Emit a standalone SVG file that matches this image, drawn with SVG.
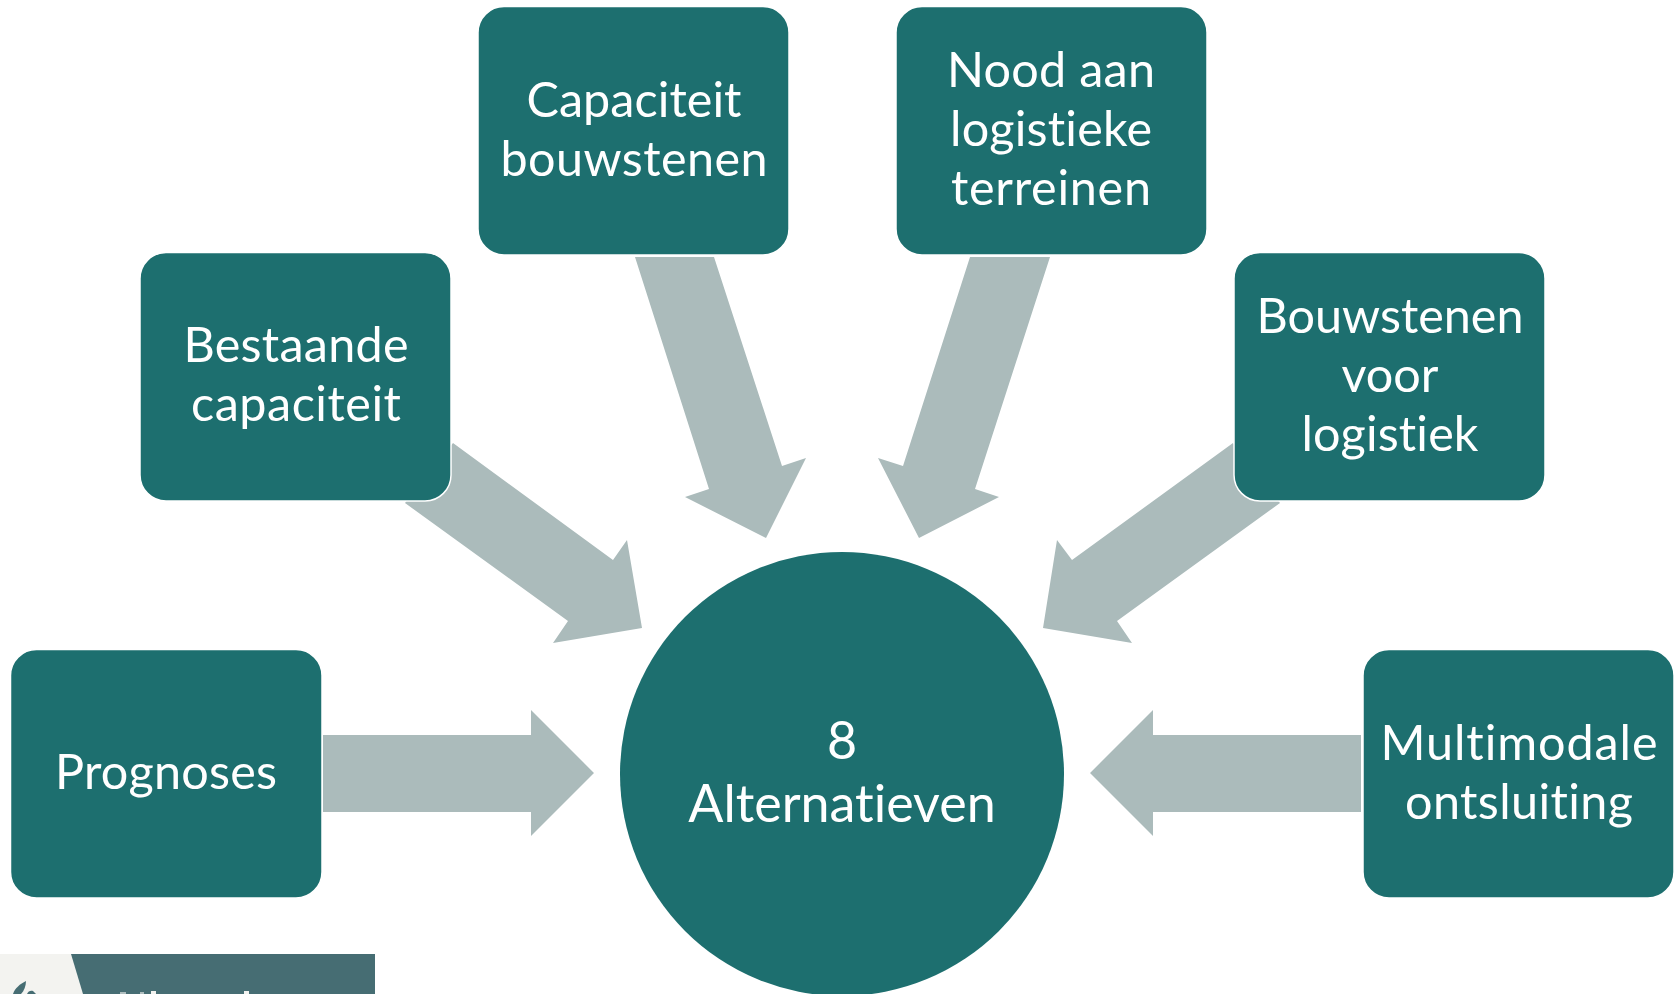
<svg xmlns="http://www.w3.org/2000/svg" width="1679" height="994" viewBox="0 0 1679 994">
<style>
.box{fill:#1d6f6f;stroke:#fff;stroke-width:1.5}
.arrow{fill:#abbbbb}
.frag{fill:#f3f3f0}
text{font-family:"Lato","Carlito","Liberation Sans",sans-serif;font-size:48.5px;fill:#fff;text-anchor:middle;font-variant-ligatures:none}
.big{font-size:52px}
</style>
<rect width="1679" height="994" fill="#fff"/>
<g id="connectors">
<polygon class="arrow" points="323,735 531,735 531,710 594,773 531,836 531,812 323,812"/>
<polygon class="arrow" points="1361,735 1153,735 1153,710 1090,773 1153,836 1153,812 1361,812"/>
<polygon class="arrow" points="453,443 613,560 627,540 642,628 553,643 568,621 405,503"/>
<polygon class="arrow" points="635,257 714,257 782,466 806,458 766,538 685,497 709,489"/>
<polygon class="arrow" points="970,257 1050,257 975,489 999,497 919,538 878,458 903,466"/>
<polygon class="arrow" points="1233,443 1072,560 1057,540 1043,628 1132,643 1117,621 1280,503"/>
</g>
<g id="node-prognoses"><rect class="box" x="10.5" y="649.5" width="311.5" height="248.5" rx="26"/><text x="166" y="789" textLength="222">Prognoses</text></g>
<g id="node-bestaande"><rect class="box" x="140" y="252.5" width="311" height="248.5" rx="26"/><text x="296" y="362" textLength="225">Bestaande</text><text x="296" y="421" textLength="210">capaciteit</text></g>
<g id="node-capaciteit"><rect class="box" x="478" y="6.5" width="311" height="248.5" rx="26"/><text x="634" y="117" textLength="215">Capaciteit</text><text x="634" y="176" textLength="267">bouwstenen</text></g>
<g id="node-nood"><rect class="box" x="896" y="6.5" width="311" height="248.5" rx="26"/><text x="1051" y="87" textLength="208">Nood aan</text><text x="1051" y="146" textLength="202">logistieke</text><text x="1051" y="205" textLength="200">terreinen</text></g>
<g id="node-bouwstenen"><rect class="box" x="1234" y="252.5" width="311" height="248.5" rx="26"/><text x="1390" y="333" textLength="267">Bouwstenen</text><text x="1390" y="392">voor</text><text x="1390" y="451" textLength="177">logistiek</text></g>
<g id="node-multimodale"><rect class="box" x="1363" y="649.5" width="311" height="248.5" rx="26"/><text x="1519" y="760" textLength="277">Multimodale</text><text x="1519" y="819" textLength="228">ontsluiting</text></g>
<g id="node-center"><circle cx="842" cy="774" r="222" fill="#1d6f6f"/><text class="big" x="842" y="759">8</text><text class="big" x="842" y="822">Alternatieven</text></g>
<g id="banner"><rect x="0" y="954" width="375" height="40" fill="#f3f3f0"/><polygon points="71,954 375,954 375,994 83,994" fill="#466d73"/>
<path d="M13,994C15,988 20,984 26,981C26,986 24,991 21,994Z" fill="#466d73"/>
<path d="M27,994C28,991 31,990 33,991L36,994Z" fill="#466d73"/>
<rect class="frag" x="151" y="991" width="5" height="3"/><rect class="frag" x="244" y="991" width="5" height="3"/><rect class="frag" x="120" y="992" width="6" height="2" opacity=".6"/><rect class="frag" x="140" y="992" width="4" height="2" opacity=".6"/></g>
</svg>
